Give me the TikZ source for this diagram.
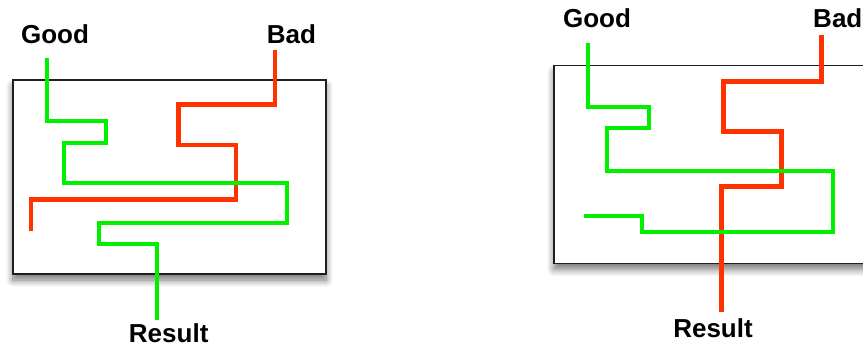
\documentclass[tikz,border=0pt]{standalone}
\usepackage{fontspec}
\setmainfont{Liberation Sans}
\usetikzlibrary{shadows.blur}
\definecolor{goodgreen}{RGB}{0,240,0}
\definecolor{badred}{RGB}{255,51,0}
\definecolor{boxline}{RGB}{30,30,30}
\tikzset{
  panel/.style={draw=boxline, line width=1.2pt, fill=white,
    blur shadow={shadow xshift=0pt, shadow yshift=-6pt, shadow blur radius=7pt, shadow blur steps=10, shadow opacity=55}},
  goodline/.style={draw=goodgreen, line width=4pt, line join=miter, line cap=butt},
  badline/.style={draw=badred, line width=4.5pt, line join=miter, line cap=butt},
  lbl/.style={font=\bfseries\fontsize{26}{28}\selectfont, inner sep=0pt, anchor=base}
}
\begin{document}
\begin{tikzpicture}[x=1pt,y=-1pt]
\useasboundingbox (0,0) rectangle (863,349);
\begin{scope}
\clip (0,0) rectangle (863,349);
\path[panel] (13,80) rectangle (326,274);
\path[panel] (554,65.7) rectangle (880,263.3);
\end{scope}

% labels
\node[lbl] (good1) at (55,43.3) {Good};
\node[lbl] (bad1) at (291.5,43.3) {Bad};
\node[lbl] (res1) at (168.7,342.5) {Result};
\node[lbl] (good2) at (597,27.3) {Good};
\node[lbl] (bad2) at (837.8,27.3) {Bad};
\node[lbl] (res2) at (713,337.3) {Result};

% path end points
\coordinate (g1s) at (46.7,58.3);
\coordinate (g1e) at (157.3,319.5);
\coordinate (b1s) at (275,50);
\coordinate (b1e) at (31,230.7);
\coordinate (g2s) at (588.3,43.3);
\coordinate (g2e) at (584.3,216);
\coordinate (b2s) at (821.7,35);
\coordinate (b2e) at (721.7,311.7);

% left panel lines
\draw[badline] (b1s) -- (275,104.3) -- (178.3,104.3) -- (178.3,145) -- (236,145)
  -- (236,199.3) -- (31,199.3) -- (b1e);
\draw[goodline] (g1s) -- (46.7,120.7) -- (106,120.7) -- (106,142.7) -- (64,142.7)
  -- (64,182.7) -- (286.7,182.7) -- (286.7,222.7) -- (99,222.7) -- (99,244.3)
  -- (157.3,244.3) -- (g1e);

% right panel lines
\draw[badline] (b2s) -- (821.7,81.7) -- (723.3,81.7) -- (723.3,131.7) -- (781.7,131.7)
  -- (781.7,186.7) -- (721.7,186.7) -- (b2e);
\draw[goodline] (g2s) -- (588.3,107.3) -- (649.3,107.3) -- (649.3,128.3) -- (606.7,128.3)
  -- (606.7,170.7) -- (833.3,170.7) -- (833.3,232.3) -- (641.7,232.3) -- (641.7,216)
  -- (g2e);
\end{tikzpicture}
\end{document}
